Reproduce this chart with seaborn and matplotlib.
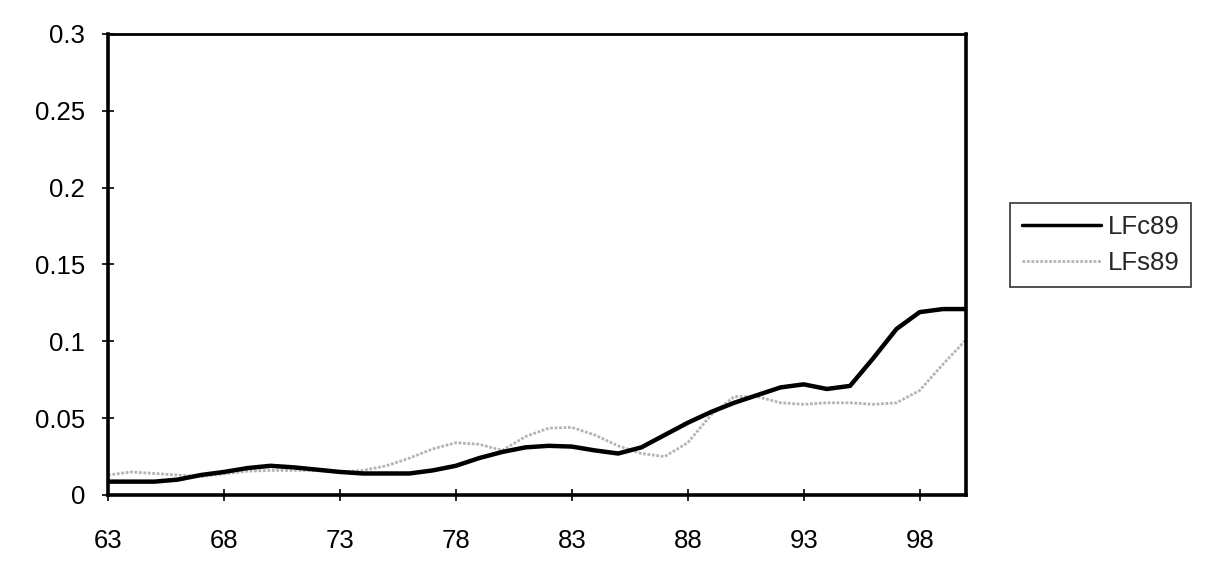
import numpy as np
import pandas as pd
import matplotlib
matplotlib.use("Agg")
import matplotlib.pyplot as plt
import seaborn as sns
from matplotlib.lines import Line2D

years = list(range(63, 101))
lfc89 = [0.0087, 0.0087, 0.0087, 0.010, 0.013, 0.015, 0.0175, 0.019, 0.018, 0.0165,
         0.015, 0.014, 0.014, 0.014, 0.016, 0.019, 0.024, 0.028, 0.031, 0.032,
         0.0315, 0.029, 0.027, 0.031, 0.039, 0.047, 0.054, 0.060, 0.065, 0.070,
         0.072, 0.069, 0.071, 0.089, 0.108, 0.119, 0.121, 0.121]
lfs89 = [0.013, 0.015, 0.014, 0.013, 0.012, 0.0137, 0.0155, 0.016, 0.016, 0.016,
         0.015, 0.016, 0.019, 0.024, 0.030, 0.034, 0.033, 0.029, 0.038, 0.0435,
         0.044, 0.039, 0.032, 0.027, 0.025, 0.034, 0.052, 0.064, 0.064, 0.060,
         0.059, 0.060, 0.060, 0.059, 0.060, 0.068, 0.085, 0.101]
xticks = [63, 68, 73, 78, 83, 88, 93, 98]
yticks = [0, 0.05, 0.1, 0.15, 0.2, 0.25, 0.3]
ytick_labels = ["0", "0.05", "0.1", "0.15", "0.2", "0.25", "0.3"]

df = pd.DataFrame({"year": years, "LFc89": lfc89, "LFs89": lfs89})
long = df.melt(id_vars="year", var_name="series", value_name="value")

sns.set_style("white")
plt.rcParams["font.family"] = ["Liberation Sans", "DejaVu Sans"]

fig = plt.figure(figsize=(12.06, 5.84), dpi=100)
ax = fig.add_axes([0.0896, 0.1524, 0.7114, 0.7894])

gray = "#b4b4b4"
sns.lineplot(data=long, x="year", y="value", hue="series",
             palette={"LFc89": "black", "LFs89": gray},
             hue_order=["LFc89", "LFs89"], ax=ax, legend=False)
lines = ax.get_lines()
lines[0].set_linewidth(3.2)
lines[1].set_linewidth(2.0)
lines[1].set_linestyle((0, (1, 0.6)))
lines[0].set_zorder(3)

ax.set_xlim(63, 100)
ax.set_ylim(0, 0.3)
ax.set_xticks(xticks)
ax.set_xticklabels([str(t) for t in xticks])
ax.set_yticks(yticks)
ax.set_yticklabels(ytick_labels)
ax.set_xlabel("")
ax.set_ylabel("")
ax.tick_params(axis="both", direction="inout", length=9, width=1.2,
               colors="black", labelsize=18.5)
ax.tick_params(axis="x", pad=20)
ax.tick_params(axis="y", pad=12)
ax.tick_params(left=True, bottom=True)
for side in ["left", "right", "bottom", "top"]:
    ax.spines[side].set_visible(True)
    ax.spines[side].set_color("black")
    ax.spines[side].set_linewidth(2.6)
ax.spines["top"].set_linewidth(2.0)

handles = [Line2D([], [], color="black", lw=2.5),
           Line2D([], [], color=gray, lw=2.0, linestyle=(0, (1, 0.6)))]
leg = fig.legend(handles, ["LFc89", "LFs89"], loc="upper left",
                 bbox_to_anchor=(1010 / 1206, 1 - 203 / 584),
                 frameon=True, fancybox=False, fontsize=18.5,
                 handlelength=3.1, handletextpad=0.25, borderpad=0.45,
                 labelspacing=0.5, borderaxespad=0)
leg.get_frame().set_edgecolor("black")
leg.get_frame().set_linewidth(1.2)

fig.savefig("out.png", dpi=100)
